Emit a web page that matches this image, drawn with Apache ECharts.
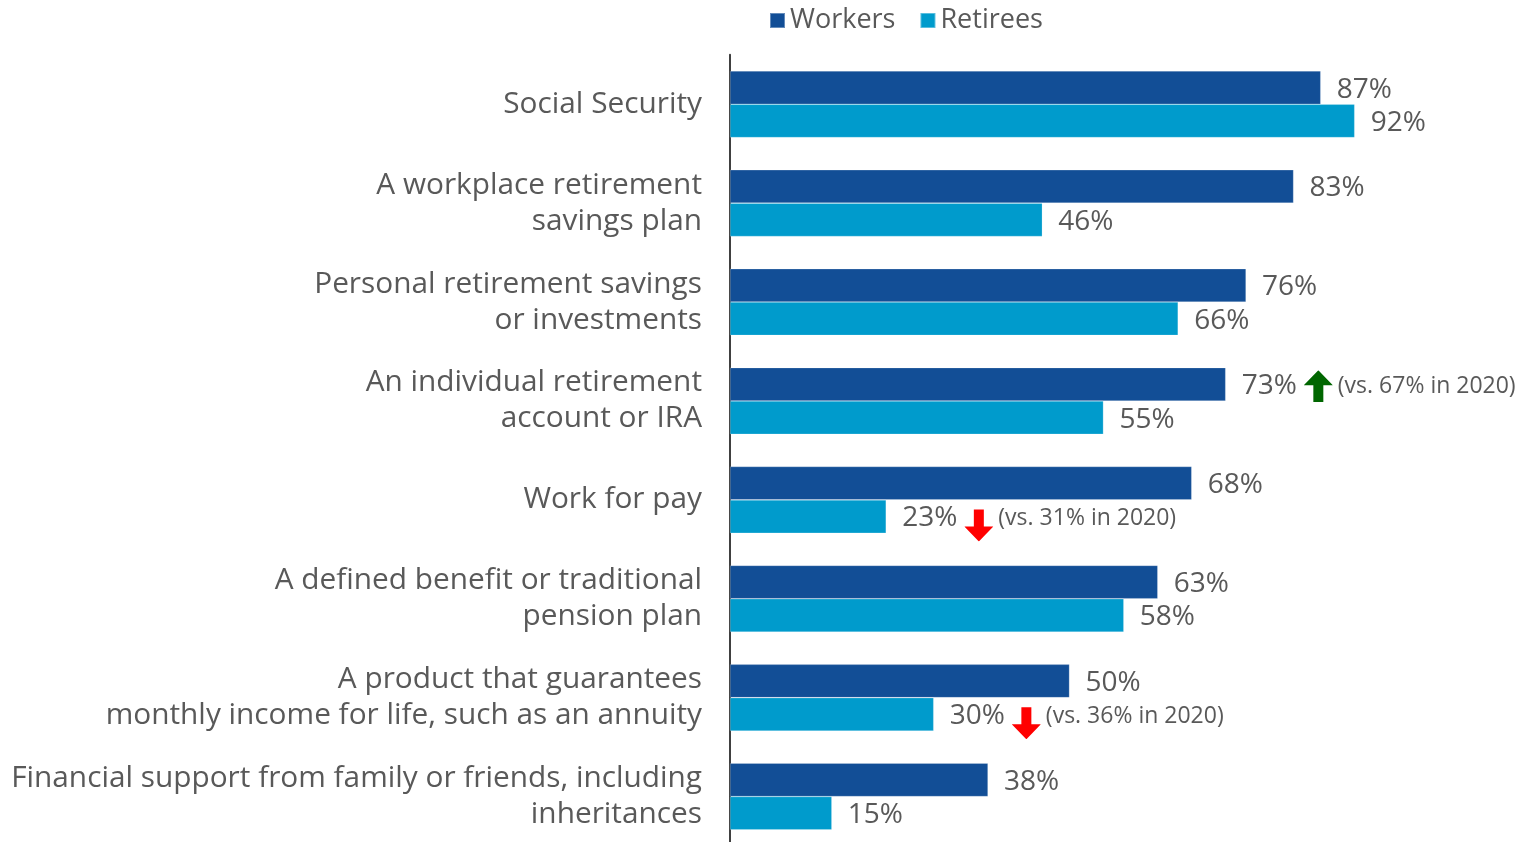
<!DOCTYPE html>
<html>
<head>
<meta charset="utf-8">
<script src="https://cdn.jsdelivr.net/npm/echarts@6/dist/echarts.min.js"></script>
<style>
  html, body { margin: 0; padding: 0; background: #ffffff; overflow: hidden; }
  #chart { width: 1530px; height: 850px; }
</style>
</head>
<body>
<div id="chart"></div>
<script>
// Sources of retirement income
const categories = [
  'Social Security',
  'A workplace retirement\nsavings plan',
  'Personal retirement savings\nor investments',
  'An individual retirement\naccount or IRA',
  'Work for pay',
  'A defined benefit or traditional\npension plan',
  'A product that guarantees\nmonthly income for life, such as an annuity',
  'Financial support from family or friends, including\ninheritances'
];
const workers  = [87, 83, 76, 73, 68, 63, 50, 38];
const retirees = [92, 46, 66, 55, 23, 58, 30, 15];

// Earlier-year values shown as change notes (null = no note)
const priorYear = 2020;
const workersPrior  = [null, null, null, 67, null, null, null, null];
const retireesPrior = [null, null, null, null, 31, null, 36, null];

const FONT = '"Open Sans", "DejaVu Sans", sans-serif';
const TEXT = '#595959';

function svgUrl(svg) {
  return 'data:image/svg+xml;charset=utf-8,' + encodeURIComponent(svg);
}
const upArrow = svgUrl('<svg xmlns="http://www.w3.org/2000/svg" width="29" height="32" viewBox="0 0 29 32">' +
  '<polygon fill="#006600" points="14.5,0 29,15 19.5,15 19.5,32 9.5,32 9.5,15 0,15"/></svg>');
const downArrow = svgUrl('<svg xmlns="http://www.w3.org/2000/svg" width="29" height="46" viewBox="0 0 29 46">' +
  '<polygon fill="#ff0000" points="9.5,14 19.5,14 19.5,31 29,31 14.5,46 0,31 9.5,31"/></svg>');

const richStyles = {
  v: { fontSize: 28, color: TEXT, fontFamily: FONT, padding: [0, 7, 0, 0] },
  up: { width: 29, height: 32, backgroundColor: { image: upArrow } },
  down: { width: 29, height: 46, backgroundColor: { image: downArrow } },
  note: { fontSize: 23, color: TEXT, fontFamily: FONT, padding: [0, 0, 0, 5] }
};

function makeLabel(prior) {
  return {
    show: true,
    position: 'right',
    distance: 16,
    offset: [0, 2],
    formatter: function (p) {
      const before = prior[p.dataIndex];
      if (before == null) return '{v|' + p.value + '%}';
      const dir = p.value > before ? 'up' : 'down';
      return '{v|' + p.value + '%}{' + dir + '|}{note|(vs. ' + before + '% in ' + priorYear + ')}';
    },
    rich: richStyles
  };
}

const chart = echarts.init(document.getElementById('chart'));
chart.setOption({
  animation: false,
  textStyle: { fontFamily: FONT },
  legend: {
    top: 2,
    left: 764,
    icon: 'rect',
    itemWidth: 15,
    itemHeight: 15,
    itemGap: 24,
    textStyle: { fontSize: 27, color: TEXT, fontFamily: FONT },
    data: ['Workers', 'Retirees']
  },
  grid: { left: 730, top: 54.8, width: 679, height: 791.2 },
  xAxis: {
    type: 'value',
    min: 0,
    max: 100,
    show: false
  },
  yAxis: {
    type: 'category',
    inverse: true,
    data: categories,
    axisLine: { show: true, lineStyle: { color: '#404040', width: 2 } },
    axisTick: { show: false },
    axisLabel: {
      margin: 28,
      fontSize: 29.8,
      lineHeight: 36,
      color: TEXT,
      fontFamily: FONT,
      align: 'right'
    }
  },
  series: [
    {
      name: 'Workers',
      type: 'bar',
      data: workers,
      barGap: '0%',
      barCategoryGap: '32.6%',
      itemStyle: { color: '#124e96', borderColor: 'rgba(255,255,255,0.35)', borderWidth: 0.6 },
      label: makeLabel(workersPrior)
    },
    {
      name: 'Retirees',
      type: 'bar',
      data: retirees,
      barGap: '0%',
      barCategoryGap: '32.6%',
      itemStyle: { color: '#009bcc', borderColor: 'rgba(255,255,255,0.35)', borderWidth: 0.6 },
      label: makeLabel(retireesPrior)
    }
  ]
});
</script>
</body>
</html>
